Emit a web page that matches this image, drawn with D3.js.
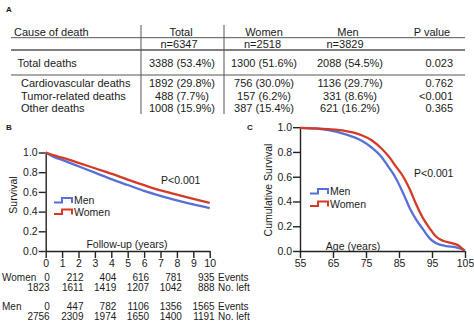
<!DOCTYPE html>
<html><head><meta charset="utf-8">
<script src="https://cdn.jsdelivr.net/npm/d3@7"></script>
<style>body{margin:0;background:#fff}svg{display:block;font-family:"Liberation Sans",Arial,sans-serif}</style>
</head><body><svg id="c" width="474" height="322"></svg>
<script>
// ---- Panel A table data ----
const tableHeader = ["Cause of death","Total","Women","Men","P value"];
const tableN = ["", "n=6347","n=2518","n=3829",""];
const rowLabels = ["Total deaths","Cardiovascular deaths","Tumor-related deaths","Other deaths"];
const totalCol = ["3388 (53.4%)","1892 (29.8%)","488 (7.7%)","1008 (15.9%)"];
const womenCol = ["1300 (51.6%)","756 (30.0%)","157 (6.2%)","387 (15.4%)"];
const menCol = ["2088 (54.5%)","1136 (29.7%)","331 (8.6%)","621 (16.2%)"];
const pCol = ["0.023","0.762","<0.001","0.365"];

// ---- Panel B: follow-up survival ----
const followYears = [0,0.5,1,2,3,4,5,6,7,8,9,10];
const menFollow   = [1.0,0.955,0.925,0.86,0.795,0.73,0.67,0.61,0.56,0.515,0.473,0.435];
const womenFollow = [1.0,0.97,0.947,0.895,0.84,0.785,0.725,0.668,0.615,0.572,0.53,0.488];
const riskYears = [0,2,4,6,8,10];
const womenEvents = ["0","212","404","616","781","935"];
const womenLeft = ["1823","1611","1419","1207","1042","888"];
const menEvents = ["0","447","782","1106","1356","1565"];
const menLeft = ["2756","2309","1974","1650","1400","1191"];
const yTicks = [0,0.2,0.4,0.6,0.8,1.0];
const followTicks = [0,1,2,3,4,5,6,7,8,9,10];

// ---- Panel C: age survival ----
const menAge = [55,60,63.6,68.6,73.7,76.7,79.7,81.8,83.8,86.3,88.3,90.3,92.3,94.3,96.3,99.3,102.3,104.3,105];
const menAgeSurv = [0.995,0.988,0.976,0.944,0.89,0.836,0.76,0.68,0.6,0.465,0.344,0.25,0.175,0.102,0.062,0.04,0.03,0.014,0.005];
const womenAge = [55,60,63.6,68.6,73.7,76.7,79.7,82,84,86.3,88.3,90.3,92.3,94.3,96.3,98.3,101.3,103.3,104.3,104.8];
const womenAgeSurv = [0.995,0.99,0.984,0.97,0.935,0.895,0.828,0.76,0.685,0.6,0.497,0.371,0.263,0.183,0.115,0.083,0.062,0.04,0.014,0.005];
const ageTicks = [55,65,75,85,95,105];

const BLUE = "#5670d8", RED = "#d33b26", TXT = "#1a1a1a", AX = "#222";
const svg = d3.select("#c");

// ---------- Panel A ----------
svg.append("text").attr("x",6).attr("y",12).attr("font-size",8).attr("font-weight","bold").attr("fill",TXT).text("A");
const colX = [14,182,264,350,453];
const colAnchor = ["start","middle","middle","middle","end"];
const hx = [14,181,264,348,432];
const gA = svg.append("g").attr("font-size",11).attr("fill",TXT);
tableHeader.forEach((t,i)=>gA.append("text").attr("x",hx[i]).attr("y",35.5).attr("text-anchor",i===0?"start":"middle").text(t));
tableN.forEach((t,i)=>gA.append("text").attr("x",[0,179,262.5,345,0][i]).attr("y",48).attr("text-anchor","middle").text(t));
const rowY = [67,86.5,99.5,112];
rowLabels.forEach((t,r)=>{
  gA.append("text").attr("x",r===0?17.5:21).attr("y",rowY[r]).text(t);
  [totalCol,womenCol,menCol,pCol].forEach((col,c)=>{
    gA.append("text").attr("x",colX[c+1]).attr("y",rowY[r]).attr("text-anchor",colAnchor[c+1]).text(col[r]);
  });
});
const lineCol = "#555";
[37.7,50,75].forEach((y,i)=>svg.append("line").attr("x1",11).attr("x2",465).attr("y1",y).attr("y2",y).attr("stroke",lineCol).attr("stroke-width",i===1?1.3:1));
[141,224].forEach(x=>svg.append("line").attr("x1",x).attr("x2",x).attr("y1",25).attr("y2",114).attr("stroke",lineCol).attr("stroke-width",1));

// ---------- Panel B ----------
svg.append("text").attr("x",6).attr("y",130).attr("font-size",8).attr("font-weight","bold").attr("fill",TXT).text("B");
const xB = d3.scaleLinear().domain([0,10]).range([45.7,209.7]);
const yB = d3.scaleLinear().domain([0,1]).range([251,152.5]);
const gB = svg.append("g");
const axisStyle = g => { g.selectAll("path,line").attr("stroke",AX).attr("stroke-width",1.4); g.selectAll("text").attr("font-size",10.5).attr("fill",TXT).attr("font-family","Liberation Sans, Arial, sans-serif"); };
gB.append("g").attr("transform",`translate(${xB(0)},0)`).call(d3.axisLeft(yB).tickValues(yTicks).tickFormat(d3.format(".1f")).tickSize(7).tickSizeOuter(0).tickPadding(1)).call(axisStyle);
gB.append("g").attr("transform",`translate(0,${yB(0)})`).call(d3.axisBottom(xB).tickValues(followTicks).tickFormat(d3.format("d")).tickSize(7).tickSizeOuter(0).tickPadding(1.5)).call(axisStyle);
const lineB = d3.line().x(d=>xB(d[0])).y(d=>yB(d[1])).curve(d3.curveMonotoneX);
gB.append("path").attr("d",lineB(followYears.map((t,i)=>[t,menFollow[i]]))).attr("fill","none").attr("stroke",BLUE).attr("stroke-width",2.3);
gB.append("path").attr("d",lineB(followYears.map((t,i)=>[t,womenFollow[i]]))).attr("fill","none").attr("stroke",RED).attr("stroke-width",2.3);
gB.append("text").attr("x",161).attr("y",184).attr("font-size",10.5).attr("fill",TXT).text("P<0.001");
gB.append("text").attr("transform","translate(16.5,195) rotate(-90)").attr("text-anchor","middle").attr("font-size",10.5).attr("fill",TXT).text("Survival");
gB.append("text").attr("x",127).attr("y",248).attr("text-anchor","middle").attr("font-size",10.5).attr("fill",TXT).text("Follow-up (years)");
function legend(g,x0,yc,color,label){
  g.append("path").attr("d",`M${x0},${yc+2.5}H${x0+8}V${yc-2}H${x0+18}V${yc+3}`).attr("fill","none").attr("stroke",color).attr("stroke-width",2);
  g.append("text").attr("x",x0+20).attr("y",yc+4).attr("font-size",10.5).attr("fill",TXT).text(label);
}
legend(gB,54,200,BLUE,"Men");
legend(gB,54,211.5,RED,"Women");
// numbers at risk
const gR = svg.append("g").attr("font-size",10).attr("fill",TXT);
function riskRow(label,vals,y,showLabel,tail){
  if(showLabel) gR.append("text").attr("x",2).attr("y",y).text(label);
  vals.forEach((v,i)=>gR.append("text").attr("x",xB(riskYears[i])+(i===0?4:5)).attr("y",y).attr("text-anchor","end").text(v));
  gR.append("text").attr("x",218).attr("y",y).text(tail);
}
riskRow("Women",womenEvents,280.5,true,"Events");
riskRow("",womenLeft,290.5,false,"No. left");
riskRow("Men",menEvents,310,true,"Events");
riskRow("",menLeft,320,false,"No. left");

// ---------- Panel C ----------
svg.append("text").attr("x",247).attr("y",130).attr("font-size",8).attr("font-weight","bold").attr("fill",TXT).text("C");
const xC = d3.scaleLinear().domain([55,105]).range([300,465]);
const yC = d3.scaleLinear().domain([0,1]).range([251,127.2]);
const gC = svg.append("g");
gC.append("g").attr("transform",`translate(${xC(55)},0)`).call(d3.axisLeft(yC).tickValues(yTicks).tickFormat(d3.format(".1f")).tickSize(7).tickSizeOuter(0).tickPadding(1)).call(axisStyle);
gC.append("g").attr("transform",`translate(0,${yC(0)})`).call(d3.axisBottom(xC).tickValues(ageTicks).tickFormat(d3.format("d")).tickSize(7).tickSizeOuter(0).tickPadding(1.5)).call(axisStyle);
const lineC = d3.line().x(d=>xC(d[0])).y(d=>yC(d[1])).curve(d3.curveMonotoneX);
gC.append("path").attr("d",lineC(menAge.map((t,i)=>[t,menAgeSurv[i]]))).attr("fill","none").attr("stroke",BLUE).attr("stroke-width",2.3);
gC.append("path").attr("d",lineC(womenAge.map((t,i)=>[t,womenAgeSurv[i]]))).attr("fill","none").attr("stroke",RED).attr("stroke-width",2.3);
gC.append("text").attr("x",414).attr("y",176.5).attr("font-size",10.5).attr("fill",TXT).text("P<0.001");
gC.append("text").attr("transform","translate(271.5,190) rotate(-90)").attr("text-anchor","middle").attr("font-size",10.5).attr("fill",TXT).text("Cumulative Survival");
gC.append("text").attr("x",353).attr("y",249.5).attr("text-anchor","middle").attr("font-size",10.5).attr("fill",TXT).text("Age (years)");
legend(gC,310,191,BLUE,"Men");
legend(gC,310,203.5,RED,"Women");
</script></body></html>
